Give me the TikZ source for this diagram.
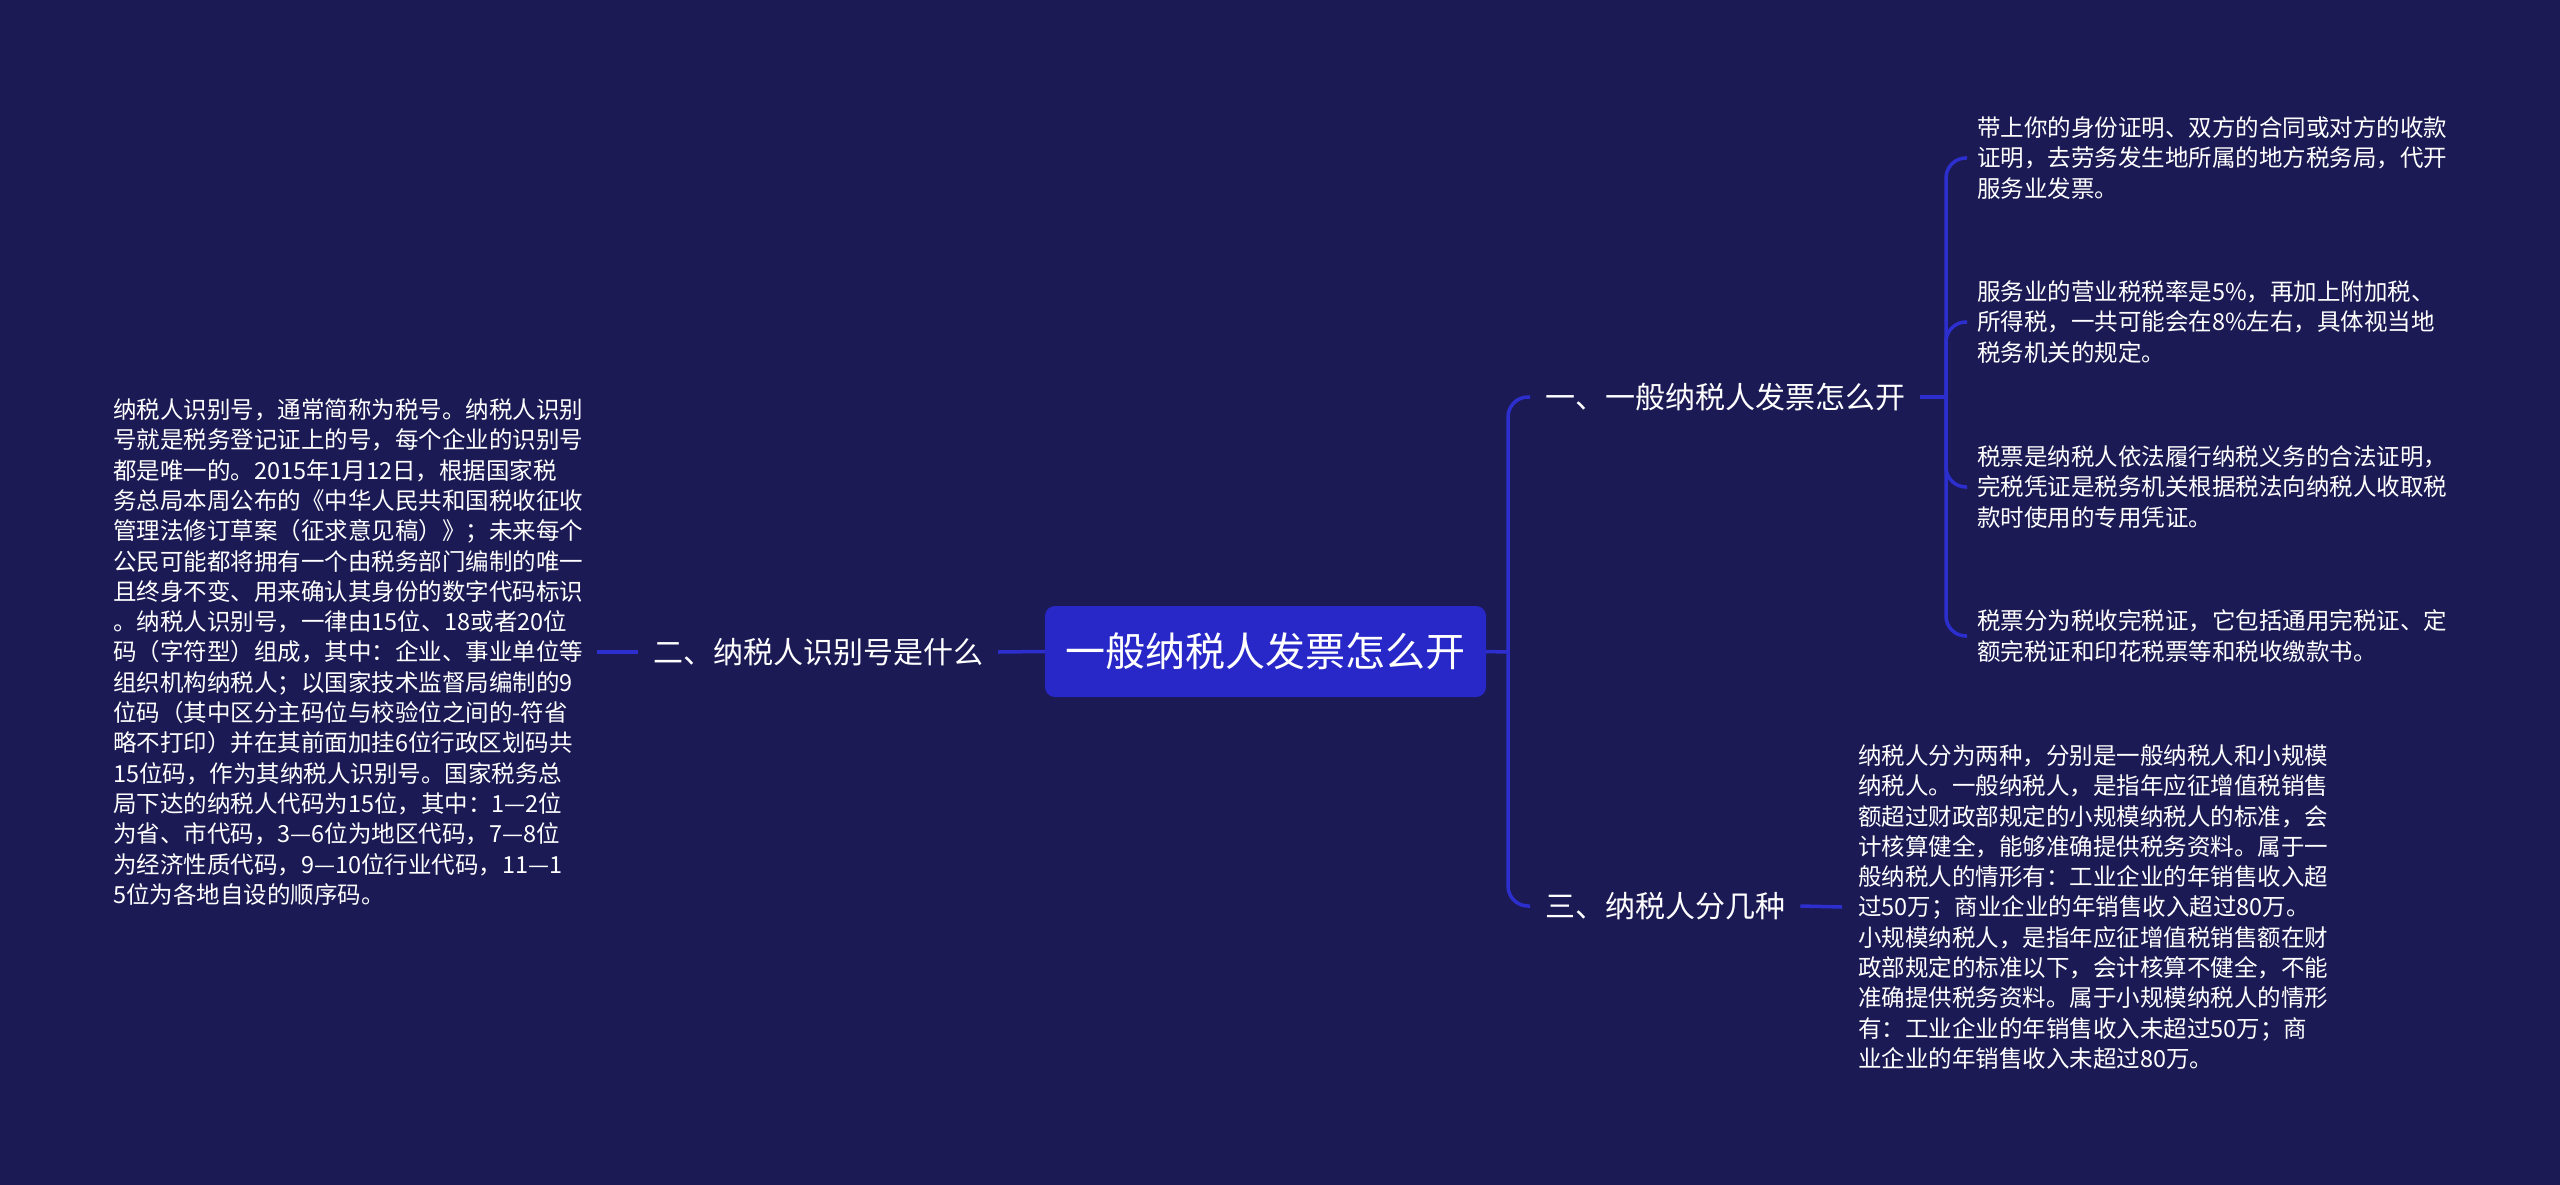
\documentclass[tikz,border=0pt]{standalone}
\usepackage{fontspec}
\setmainfont{Noto Sans CJK SC}
\definecolor{bg}{RGB}{27,26,84}
\definecolor{rootfill}{RGB}{40,40,200}
\definecolor{linec}{RGB}{44,46,206}
\begin{document}
\begin{tikzpicture}[x=1pt,y=-1pt,
  conn/.style={draw=linec,line width=3.5pt,rounded corners=20pt},
  leaf/.style={anchor=west,text=white,align=left,text width=472pt,inner xsep=10pt,inner ysep=0pt,font=\fontsize{23.5pt}{30.3pt}\selectfont},
  branch/.style={text=white,inner xsep=15pt,inner ysep=4pt,font=\fontsize{30pt}{36pt}\selectfont},
  rootnode/.style={fill=rootfill,rounded corners=10pt,text=white,minimum width=441pt,minimum height=91pt,inner sep=0pt,font=\fontsize{40pt}{48pt}\selectfont}]
\fill[bg] (0,0) rectangle (2560,1185);
\useasboundingbox (0,0) rectangle (2560,1185);

\node[rootnode] (root) at (1265.5,651.5) {一般纳税人发票怎么开};
\node[branch,anchor=center] (b2) at (818,652) {二、纳税人识别号是什么};
\node[leaf,inner xsep=12pt] (L) at (101,652) {纳税人识别号，通常简称为税号。纳税人识别\\号就是税务登记证上的号，每个企业的识别号\\都是唯一的。2015年1月12日，根据国家税\\务总局本周公布的《中华人民共和国税收征收\\管理法修订草案（征求意见稿）》；未来每个\\公民可能都将拥有一个由税务部门编制的唯一\\且终身不变、用来确认其身份的数字代码标识\\。纳税人识别号，一律由15位、18或者20位\\码（字符型）组成，其中：企业、事业单位等\\组织机构纳税人；以国家技术监督局编制的9\\位码（其中区分主码位与校验位之间的-符省\\略不打印）并在其前面加挂6位行政区划码共\\15位码，作为其纳税人识别号。国家税务总\\局下达的纳税人代码为15位，其中：1—2位\\为省、市代码，3—6位为地区代码，7—8位\\为经济性质代码，9—10位行业代码，11—1\\5位为各地自设的顺序码。};

\node[branch,anchor=west] (b1) at (1530,397) {一、一般纳税人发票怎么开};
\node[branch,anchor=west] (b3) at (1530,906) {三、纳税人分几种};

\node[leaf] (R1) at (1967,158) {带上你的身份证明、双方的合同或对方的收款\\证明，去劳务发生地所属的地方税务局，代开\\服务业发票。};
\node[leaf] (R2) at (1967,322) {服务业的营业税税率是5\%，再加上附加税、\\所得税，一共可能会在8\%左右，具体视当地\\税务机关的规定。};
\node[leaf] (R3) at (1967,487) {税票是纳税人依法履行纳税义务的合法证明，\\完税凭证是税务机关根据税法向纳税人收取税\\款时使用的专用凭证。};
\node[leaf] (R4) at (1967,636) {税票分为税收完税证，它包括通用完税证、定\\额完税证和印花税票等和税收缴款书。};

\node[leaf,inner xsep=16pt] (T) at (1842,907) {纳税人分为两种，分别是一般纳税人和小规模\\纳税人。一般纳税人，是指年应征增值税销售\\额超过财政部规定的小规模纳税人的标准，会\\计核算健全，能够准确提供税务资料。属于一\\般纳税人的情形有：工业企业的年销售收入超\\过50万；商业企业的年销售收入超过80万。\\小规模纳税人，是指年应征增值税销售额在财\\政部规定的标准以下，会计核算不健全，不能\\准确提供税务资料。属于小规模纳税人的情形\\有：工业企业的年销售收入未超过50万；商\\业企业的年销售收入未超过80万。};

\coordinate (s1) at (1508,652);
\coordinate (s2) at (1946,397);

\draw[conn] (L.east) -- (b2.west);
\draw[conn] (b2.east) -- (root.west);
\draw[conn] (root.east) -- (s1);
\draw[conn] (s1) |- (b1.west);
\draw[conn] (s1) |- (b3.west);
\draw[conn] (b1.east) -- (s2);
\draw[conn] (s2) |- (R1.west);
\draw[conn] (s2) |- (R2.west);
\draw[conn] (s2) |- (R3.west);
\draw[conn] (s2) |- (R4.west);
\draw[conn] (b3.east) -- (T.west);
\end{tikzpicture}
\end{document}
